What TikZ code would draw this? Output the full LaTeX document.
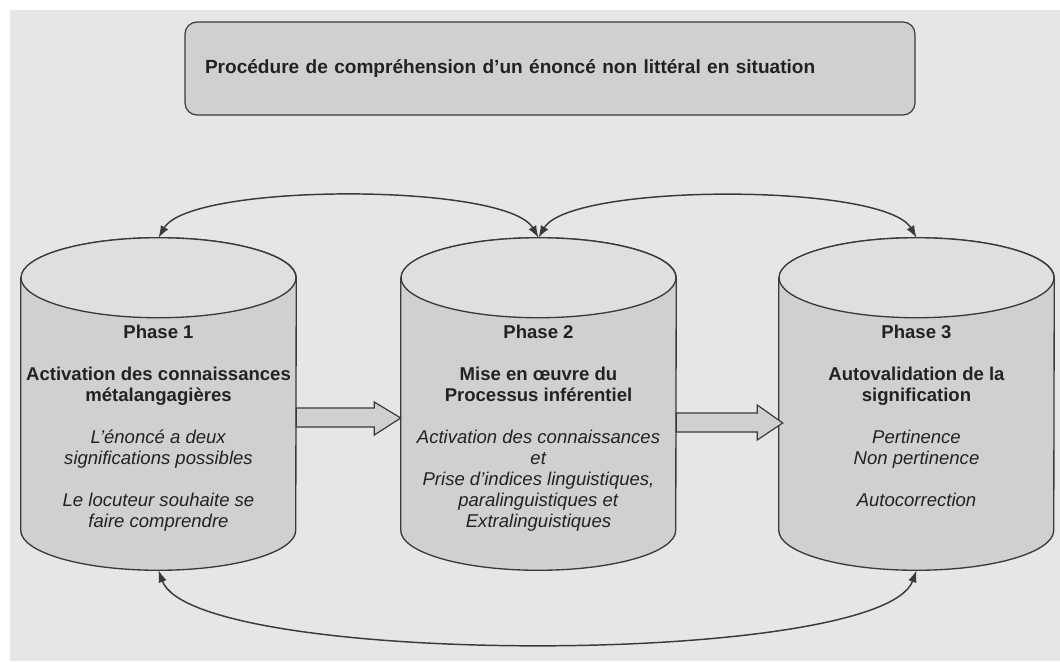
\documentclass[tikz,border=0pt]{standalone}
\usepackage{fontspec}
\setmainfont{Liberation Sans}
\usetikzlibrary{arrows.meta,calc,positioning}

\definecolor{bggray}{HTML}{E6E6E6}
\definecolor{boxgray}{HTML}{D0D0D0}
\definecolor{topgray}{HTML}{DFDFDF}
\definecolor{linegray}{HTML}{3A3A3A}
\definecolor{textgray}{HTML}{222222}

\tikzset{
  phasebox/.style={minimum width=206.25pt, minimum height=249pt, inner sep=0pt},
  cylbody/.style={draw=linegray, fill=boxgray, line width=1pt},
  cyltop/.style={draw=linegray, fill=topgray, line width=1pt},
  phasetext/.style={align=center, inner sep=0pt, anchor=north, text=textgray,
    font=\fontsize{13.9}{15.75}\selectfont},
  loop/.style={<->, >={Latex[length=9pt,width=6.5pt]}, draw=linegray, line width=1.1pt},
  blockarrow/.style={draw=linegray, fill=boxgray, line width=0.9pt, line join=miter}
}

\begin{document}
\begin{tikzpicture}[x=0.75pt,y=-0.75pt]
\useasboundingbox (0,0) rectangle (1060,661);
\fill[white] (0,0) rectangle (1060,661);
\fill[bggray] (10,10) rectangle (1060,661);

% title
\node[draw=linegray, fill=boxgray, rounded corners=9pt, line width=0.9pt,
  minimum height=69.75pt, text width=517.5pt, inner xsep=15pt, align=left, text=textgray,
  font=\bfseries\fontsize{14.3}{17}\selectfont] (title) at (550,68.5)
  {Procédure de compréhension d'un énoncé non littéral en situation};

% the three phases (cylinders)
\foreach \n/\cx in {1/158.5, 2/538.5, 3/916.5} {
  \node[phasebox] (c\n) at (\cx,404) {};
  \path[cylbody] ($(c\n.north west)+(0,40)$) -- ($(c\n.south west)+(0,-40)$)
    arc[start angle=180, end angle=360, x radius=103.125pt, y radius=30pt]
    -- ($(c\n.north east)+(0,40)$)
    arc[start angle=0, end angle=180, x radius=103.125pt, y radius=30pt] -- cycle;
  \draw[cyltop] ($(c\n.north)+(0,40)$) ellipse[x radius=103.125pt, y radius=30pt];
}

\node[phasetext] (t1) at ($(c1.north)+(0,87)$) {\textbf{Phase 1}\\[15.75pt]
  \textbf{Activation des connaissances}\\ \textbf{métalangagières}\\[15.75pt]
  \textit{L'énoncé a deux}\\ \textit{significations possibles}\\[15.75pt]
  \textit{Le locuteur souhaite se}\\ \textit{faire comprendre}};
\node[phasetext] (t2) at ($(c2.north)+(0,87)$) {\textbf{Phase 2}\\[15.75pt]
  \textbf{Mise en œuvre du}\\ \textbf{Processus inférentiel}\\[15.75pt]
  \textit{Activation des connaissances}\\ \textit{et}\\
  \textit{Prise d'indices linguistiques,}\\ \textit{paralinguistiques et}\\
  \textit{Extralinguistiques}};
\node[phasetext] (t3) at ($(c3.north)+(0,87)$) {\textbf{Phase 3}\\[15.75pt]
  \textbf{Autovalidation de la}\\ \textbf{signification}\\[15.75pt]
  \textit{Pertinence}\\ \textit{Non pertinence}\\[15.75pt]
  \textit{Autocorrection}};

% block arrows
\draw[blockarrow] ($(c1.east)+(0,4)$) -- ++(78,0) -- ++(0,-6) -- ($(c2.west)+(0,14)$)
  -- ($(c1.east)+(78,31)$) -- ++(0,-8) -- ($(c1.east)+(0,23)$) -- cycle;
\draw[blockarrow] ($(c2.east)+(0,9)$) -- ++(81,0) -- ++(0,-8) -- ($(c3.west)+(4,19)$)
  -- ($(c2.east)+(81,36)$) -- ++(0,-8) -- ($(c2.east)+(0,28)$) -- cycle;

% feedback loops
\draw[loop] (c1.north) to[out=60,in=120,looseness=0.43] (c2.north);
\draw[loop] (c2.north) to[out=60,in=120,looseness=0.43] (c3.north);
\draw[loop] (c1.south) to[out=-70,in=-110,looseness=0.35] (c3.south);
\end{tikzpicture}
\end{document}
